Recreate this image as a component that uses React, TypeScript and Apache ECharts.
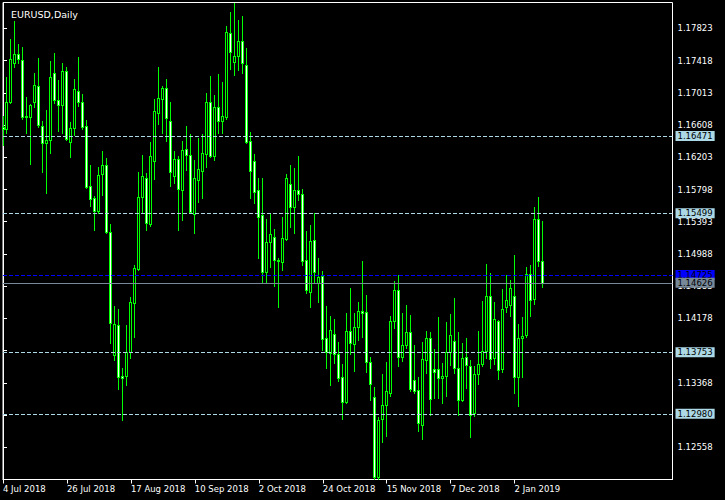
import React, { useEffect, useRef } from 'react';
import * as echarts from 'echarts';

// EURUSD daily candles, 4 Jul 2018 .. 11 Jan 2019 (trading days)
const opens = [
  1.16580, 1.16554, 1.16897, 1.17384, 1.17497, 1.17425, 1.16721, 1.16705, 1.16897, 1.17095,
  1.16596, 1.16378, 1.16420, 1.17258, 1.16922, 1.16856, 1.17291, 1.16398, 1.16567, 1.17032,
  1.16894, 1.16592, 1.15842, 1.15687, 1.15531, 1.15989, 1.16102, 1.15260, 1.13714, 1.14099,
  1.13454, 1.13454, 1.13760, 1.14368, 1.14803, 1.15700, 1.15938, 1.15368, 1.16160, 1.16763,
  1.16939, 1.17068, 1.16655, 1.15964, 1.16177, 1.15795, 1.16303, 1.16228, 1.15494, 1.15917,
  1.16034, 1.16244, 1.16894, 1.16222, 1.16831, 1.16655, 1.16713, 1.17764, 1.17404, 1.17479,
  1.17660, 1.17358, 1.16403, 1.16160, 1.15788, 1.15474, 1.14765, 1.15142, 1.15205, 1.14912,
  1.14891, 1.15176, 1.15863, 1.15582, 1.15788, 1.15737, 1.14909, 1.14514, 1.15159, 1.14627,
  1.14707, 1.13928, 1.13739, 1.13978, 1.13727, 1.13442, 1.13128, 1.14016, 1.13852, 1.14066,
  1.14267, 1.14255, 1.13626, 1.13187, 1.12180, 1.12910, 1.13086, 1.13244, 1.14141, 1.14531,
  1.13697, 1.13847, 1.14003, 1.13400, 1.13279, 1.12842, 1.13659, 1.13928, 1.13538, 1.13538,
  1.13425, 1.13450, 1.13760, 1.13890, 1.13551, 1.13156, 1.13689, 1.13576, 1.12993, 1.13475,
  1.13601, 1.13765, 1.14456, 1.13677, 1.14141, 1.13538, 1.14317, 1.14343, 1.14456, 1.13438,
  1.13928, 1.13966, 1.14736, 1.14418, 1.15423, 1.14896,
];
const highs = [
  1.16720, 1.17208, 1.17685, 1.17915, 1.17626, 1.17592, 1.16956, 1.16872, 1.17258, 1.17450,
  1.16655, 1.16797, 1.17416, 1.17509, 1.17174, 1.17391, 1.17341, 1.16646, 1.17186, 1.17459,
  1.16994, 1.16671, 1.16106, 1.15716, 1.16084, 1.16282, 1.16194, 1.15364, 1.14334, 1.14296,
  1.13551, 1.14095, 1.14451, 1.14849, 1.16018, 1.16231, 1.16005, 1.16391, 1.16931, 1.17333,
  1.17098, 1.17186, 1.16897, 1.16282, 1.16219, 1.16407, 1.16596, 1.16491, 1.16168, 1.16449,
  1.16491, 1.17007, 1.17224, 1.16985, 1.17249, 1.17149, 1.17852, 1.18028, 1.18145, 1.17928,
  1.17978, 1.17576, 1.16520, 1.16244, 1.15942, 1.15942, 1.15427, 1.15499, 1.15301, 1.14937,
  1.15448, 1.15993, 1.16106, 1.16068, 1.16219, 1.15804, 1.15276, 1.15352, 1.15499, 1.14941,
  1.14777, 1.14334, 1.14208, 1.14170, 1.13882, 1.13605, 1.14246, 1.14560, 1.14250, 1.14384,
  1.14900, 1.14476, 1.13697, 1.13312, 1.12943, 1.13479, 1.13630, 1.14208, 1.14648, 1.14723,
  1.14246, 1.14346, 1.14221, 1.13844, 1.13442, 1.13882, 1.14020, 1.14007, 1.13793, 1.14196,
  1.13617, 1.14129, 1.14229, 1.14434, 1.14003, 1.13869, 1.13932, 1.13652, 1.13576, 1.14020,
  1.14397, 1.14862, 1.14748, 1.14384, 1.14154, 1.14547, 1.14723, 1.14661, 1.14975, 1.14108,
  1.14196, 1.14824, 1.14849, 1.15574, 1.15704, 1.15402,
];
const lows = [
  1.16360, 1.16504, 1.16881, 1.17341, 1.17387, 1.16680, 1.16508, 1.16118, 1.16838, 1.16587,
  1.16018, 1.15750, 1.16260, 1.16881, 1.16537, 1.16504, 1.16420, 1.16202, 1.16483, 1.16847,
  1.16554, 1.15813, 1.15591, 1.15289, 1.15499, 1.15729, 1.15248, 1.13873, 1.13655, 1.13295,
  1.12906, 1.13341, 1.13677, 1.13948, 1.14786, 1.15519, 1.15289, 1.15339, 1.15930, 1.16621,
  1.16511, 1.16411, 1.15846, 1.15883, 1.15289, 1.15415, 1.16043, 1.15499, 1.15255, 1.15644,
  1.15695, 1.16084, 1.16202, 1.16168, 1.16504, 1.16504, 1.16684, 1.17312, 1.17240, 1.17299,
  1.17258, 1.16386, 1.15691, 1.15632, 1.14937, 1.14639, 1.14639, 1.14828, 1.14589, 1.14317,
  1.14786, 1.15163, 1.15330, 1.15248, 1.15666, 1.14853, 1.14493, 1.14325, 1.14619, 1.14388,
  1.13781, 1.13559, 1.13341, 1.13614, 1.13391, 1.12918, 1.13111, 1.13727, 1.13521, 1.13907,
  1.13941, 1.13508, 1.13153, 1.12156, 1.12162, 1.12629, 1.12704, 1.13207, 1.14054, 1.13584,
  1.13646, 1.13802, 1.13270, 1.13244, 1.12767, 1.12666, 1.13488, 1.12963, 1.13182, 1.13182,
  1.13111, 1.13207, 1.13595, 1.13495, 1.12968, 1.13144, 1.13303, 1.12691, 1.12955, 1.13357,
  1.13580, 1.13677, 1.13559, 1.13601, 1.13417, 1.13508, 1.14262, 1.14212, 1.13244, 1.13081,
  1.13446, 1.13948, 1.14212, 1.14363, 1.14840, 1.14576,
];
const closes = [
  1.16560, 1.16897, 1.17434, 1.17497, 1.17441, 1.16713, 1.16705, 1.16856, 1.17107, 1.16605,
  1.16378, 1.16420, 1.17208, 1.16922, 1.16856, 1.17283, 1.16436, 1.16567, 1.17057, 1.16901,
  1.16587, 1.15833, 1.15675, 1.15531, 1.15976, 1.16102, 1.15268, 1.14116, 1.14108, 1.13438,
  1.13429, 1.13760, 1.14384, 1.14811, 1.15700, 1.15964, 1.15381, 1.16215, 1.16780, 1.16944,
  1.17068, 1.16700, 1.16021, 1.16177, 1.15800, 1.16290, 1.16228, 1.15515, 1.15938, 1.16052,
  1.16253, 1.16897, 1.16219, 1.16831, 1.16655, 1.16718, 1.17777, 1.17529, 1.17472, 1.17660,
  1.17384, 1.16398, 1.16026, 1.15770, 1.15456, 1.14765, 1.15134, 1.15235, 1.14912, 1.14895,
  1.15185, 1.15938, 1.15582, 1.15788, 1.15737, 1.14896, 1.14535, 1.15147, 1.14765, 1.14694,
  1.13915, 1.13752, 1.14028, 1.13727, 1.13433, 1.13131, 1.14016, 1.13865, 1.14066, 1.14267,
  1.14250, 1.13626, 1.13350, 1.12180, 1.12901, 1.13086, 1.13262, 1.14141, 1.14531, 1.13697,
  1.13840, 1.14003, 1.13295, 1.13270, 1.12867, 1.13668, 1.13928, 1.13161, 1.13501, 1.13425,
  1.13450, 1.13752, 1.13966, 1.13551, 1.13156, 1.13677, 1.13589, 1.12968, 1.13475, 1.13601,
  1.13765, 1.14456, 1.13664, 1.14167, 1.13526, 1.14292, 1.14405, 1.14556, 1.13438, 1.13928,
  1.13953, 1.14736, 1.14405, 1.15423, 1.14896, 1.14626,
];

// price-scale ticks (every tick gets a mark; labels fully hidden behind the level boxes are omitted)
const yTicks = [
  1.12558, 1.12963, 1.13368, 1.13773, 1.14178, 1.14583, 1.14988,
  1.15393, 1.15798, 1.16203, 1.16608, 1.17013, 1.17418, 1.17823,
];
const yTickLabels = [
  1.12558, 1.13368, 1.14178, 1.14583, 1.14988,
  1.15393, 1.15798, 1.16203, 1.16608, 1.17013, 1.17418, 1.17823,
];
// bar indices carrying a date label on the time scale
const xTickBars = [0, 16, 32, 48, 64, 80, 96, 112, 128];
const levelLines = [1.16471, 1.15499, 1.13753, 1.1298];
const askPrice = 1.14725;
const bidPrice = 1.14626;
const yMin = 1.12154;
const yMax = 1.18148;
const xSlots = 167.5; // visible bar slots incl. the empty shift area on the right

const startDate = [2018, 6, 4]; // 4 Jul 2018
const holidays = ['2018-12-25', '2019-01-01'];
const MONTHS = ['Jan', 'Feb', 'Mar', 'Apr', 'May', 'Jun', 'Jul', 'Aug', 'Sep', 'Oct', 'Nov', 'Dec'];

function tradingDays(count: number): string[] {
  const out: string[] = [];
  const d = new Date(Date.UTC(startDate[0], startDate[1], startDate[2]));
  while (out.length < count) {
    const dow = d.getUTCDay();
    const iso = d.toISOString().slice(0, 10);
    if (dow !== 0 && dow !== 6 && holidays.indexOf(iso) < 0) {
      out.push(`${d.getUTCDate()} ${MONTHS[d.getUTCMonth()]} ${d.getUTCFullYear()}`);
    }
    d.setUTCDate(d.getUTCDate() + 1);
  }
  return out;
}

const FONT = 'DejaVu Sans';
const GREEN = '#00ff00';

export default function App() {
  const ref = useRef<HTMLDivElement>(null);

  useEffect(() => {
    if (!ref.current) return;
    const chart = echarts.init(ref.current, undefined, { renderer: 'svg' });
    const dates = tradingDays(opens.length);
    const data = opens.map((o, i) => [i, o, closes[i], lows[i], highs[i]]);

    const lab = (bg: string) => ({
      show: true,
      position: 'end',
      distance: 3,
      formatter: (p: any) => Number(p.value).toFixed(5),
      backgroundColor: bg,
      color: '#000',
      padding: [1, 2, 0, 2],
      fontSize: 8.5,
      fontFamily: FONT,
    });

    // MT4-style candle drawn with pixel-aligned fills: green wick, green 3px body frame,
    // 1px inner fill (black = up, white = down)
    const renderItem = (params: any, api: any) => {
      const i = api.value(0);
      const o = api.value(1);
      const c = api.value(2);
      const l = api.value(3);
      const h = api.value(4);
      const pO = api.coord([i, o]);
      const pC = api.coord([i, c]);
      const pL = api.coord([i, l]);
      const pH = api.coord([i, h]);
      const xi = Math.floor(pO[0]);
      const yh = Math.round(pH[1]);
      const yl = Math.round(pL[1]);
      const top = Math.round(Math.min(pO[1], pC[1]));
      const bot = Math.round(Math.max(pO[1], pC[1]));
      const bull = c >= o;
      const children: any[] = [
        { type: 'rect', shape: { x: xi, y: yh, width: 1, height: yl - yh + 1 }, style: { fill: GREEN } },
        { type: 'rect', shape: { x: xi - 1, y: top, width: 3, height: bot - top + 1 }, style: { fill: GREEN } },
      ];
      if (bot - top >= 2) {
        children.push({
          type: 'rect',
          shape: { x: xi, y: top + 1, width: 1, height: bot - top - 1 },
          style: { fill: bull ? '#000000' : '#ffffff' },
        });
      }
      return { type: 'group', children };
    };

    chart.setOption({
      animation: false,
      backgroundColor: '#000',
      title: {
        text: 'EURUSD,Daily',
        left: 6,
        top: 4,
        textStyle: { color: '#fff', fontSize: 9.5, fontWeight: 'normal', fontFamily: FONT },
      },
      grid: {
        left: 2.5,
        right: 52.5,
        top: 2.5,
        bottom: 20.5,
        show: true,
        borderColor: '#fff',
        borderWidth: 1,
        backgroundColor: '#000',
      },
      xAxis: {
        type: 'value',
        min: 0,
        max: xSlots,
        axisLine: { show: true, onZero: false, lineStyle: { color: '#fff', width: 1 } },
        axisTick: { show: true, length: 4, customValues: xTickBars, lineStyle: { color: '#fff' } },
        axisLabel: {
          customValues: xTickBars,
          formatter: (v: number) => dates[Math.round(v)] || '',
          align: 'left',
          color: '#fff',
          fontSize: 8.5,
          fontFamily: FONT,
          margin: 5,
        },
        splitLine: { show: false },
      },
      yAxis: {
        type: 'value',
        position: 'right',
        min: yMin,
        max: yMax,
        splitLine: { show: false },
        axisLine: { show: true, lineStyle: { color: '#fff' } },
        axisTick: { show: true, length: 4, customValues: yTicks, lineStyle: { color: '#fff' } },
        axisLabel: {
          customValues: yTickLabels,
          formatter: (v: number) => v.toFixed(5),
          color: '#fff',
          fontSize: 8.5,
          fontFamily: FONT,
          margin: 5,
        },
      },
      series: [
        {
          type: 'custom',
          data,
          encode: { x: 0, y: [1, 2, 3, 4] },
          renderItem,
          clip: false,
          markLine: {
            silent: true,
            precision: 5,
            symbol: ['none', 'none'],
            animation: false,
            data: [
              ...levelLines.map((v) => ({
                yAxis: v,
                lineStyle: { color: '#add8e6', type: [4, 2], width: 1 },
                label: lab('#add8e6'),
              })),
              { yAxis: askPrice, lineStyle: { color: '#0000ff', type: [4, 2], width: 1 }, label: lab('#0000ff') },
              { yAxis: bidPrice, lineStyle: { color: '#778899', type: 'solid', width: 1 }, label: lab('#778899') },
            ],
          },
        },
      ],
    });
    return () => chart.dispose();
  }, []);

  return (
    <div
      ref={ref}
      style={{ position: 'fixed', left: 0, top: 0, width: 725, height: 500, background: '#000' }}
    />
  );
}
